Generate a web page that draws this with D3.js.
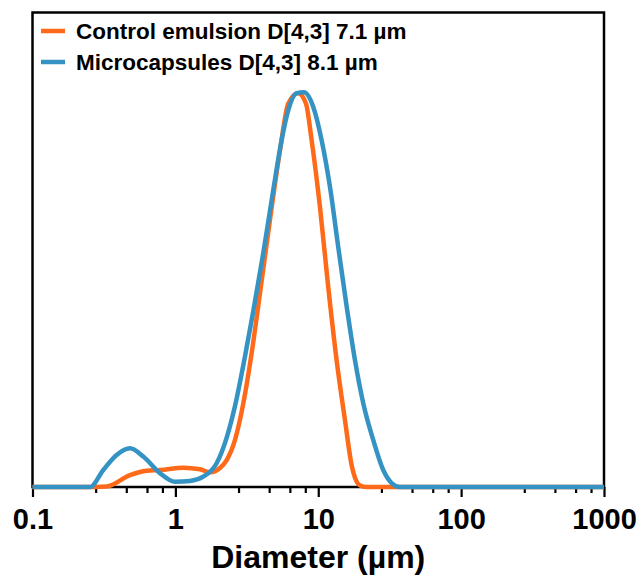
<!DOCTYPE html>
<html>
<head>
<meta charset="utf-8">
<script src="https://cdn.jsdelivr.net/npm/d3@7"></script>
<style>
  body { margin: 0; background: #fff; }
  svg { display: block; font-family: "Liberation Sans", Arial, sans-serif; font-weight: bold; }
</style>
</head>
<body>
<svg class="chart"></svg>
<script>
// particle size distributions, diameter in µm, volume %
var controlSize = [0.1, 0.274, 0.33, 0.481, 0.63, 0.78, 1.136, 1.486, 1.746, 2.05, 2.286, 2.614, 2.99, 3.42, 3.91, 4.59, 5.4, 6.17, 7.24, 8.2, 8.99, 10.28, 11.75, 13.45, 15.37, 17.13, 19.59, 21.81, 1000];
var controlVol  = [0, 0, 0.01, 0.3, 0.41, 0.43, 0.49, 0.45, 0.37, 0.48, 0.68, 1.19, 2.12, 3.39, 4.9, 6.75, 8.52, 9.7, 9.96, 9.7, 8.77, 7.08, 5.05, 3.2, 1.7, 0.55, 0.04, 0, 0];

var capsSize = [0.1, 0.253, 0.313, 0.388, 0.481, 0.596, 0.78, 0.994, 1.265, 1.567, 1.945, 2.286, 2.614, 3.07, 3.51, 4.12, 4.84, 5.54, 6.17, 7.06, 7.94, 9.23, 10.56, 12.08, 13.8, 15.81, 18.07, 20.65, 24.26, 28.5, 32.6, 37.3, 1000];
var capsVol  = [0, 0, 0.43, 0.81, 0.98, 0.77, 0.35, 0.13, 0.15, 0.26, 0.6, 1.25, 2.05, 3.3, 4.45, 5.91, 7.5, 8.77, 9.53, 9.96, 9.98, 9.61, 8.77, 7.59, 6.07, 4.56, 3.21, 2.12, 1.19, 0.43, 0.1, 0, 0];

var seriesNames = ["Control emulsion D[4,3] 7.1 µm", "Microcapsules D[4,3] 8.1 µm"];
var colors = ["#ff6a1a", "#3593c4"];

var majorTicks = [0.1, 1, 10, 100, 1000];
var minorSteps = [2.79, 4.57, 6.38, 8.18];

var W = 641, H = 577;
var margin = {top: 12.5, right: 37, bottom: 90, left: 32.5};

var chart = d3.select(".chart").attr("width", W).attr("height", H);

var xScale = d3.scaleLog().domain([0.1, 1000]).range([margin.left, W - margin.right]);
var yScale = d3.scaleLinear().domain([0, 12]).range([H - margin.bottom, margin.top]);

var x0 = xScale.range()[0], x1 = xScale.range()[1];
var yb = yScale(0), yt = yScale.range()[1];

// minor ticks
var minor = [];
majorTicks.slice(0, -1).forEach(function(t){
  minorSteps.forEach(function(m){ minor.push(t * m); });
});

var xAxis = d3.axisBottom(xScale)
  .tickValues(majorTicks)
  .tickSize(10)
  .tickPadding(11)
  .tickFormat(function(d){ return d3.format("~g")(d); });

var gx = chart.append("g")
  .attr("class", "axis x")
  .attr("transform", "translate(0," + yb + ")")
  .call(xAxis);
gx.select(".domain").remove();
gx.selectAll(".tick line").attr("stroke", "#000").attr("stroke-width", 2.2);
gx.selectAll(".tick text")
  .attr("fill", "#000")
  .style("font-size", "29px")
  .style("font-weight", "bold");

gx.selectAll(".minor")
  .data(minor)
  .enter().append("line")
  .attr("class", "minor")
  .attr("x1", function(d){ return xScale(d); })
  .attr("x2", function(d){ return xScale(d); })
  .attr("y1", 0).attr("y2", 6)
  .attr("stroke", "#000").attr("stroke-width", 2.2);

// frame
chart.append("rect")
  .attr("x", x0).attr("y", yt)
  .attr("width", x1 - x0).attr("height", yb - yt)
  .attr("fill", "none")
  .attr("stroke", "#000")
  .attr("stroke-width", 2.5);

// axis title
chart.append("text")
  .attr("x", (x0 + x1) / 2)
  .attr("y", 568)
  .attr("text-anchor", "middle")
  .style("font-size", "32px")
  .text("Diameter (µm)");

var line = d3.line()
  .curve(d3.curveMonotoneX)
  .x(function(d){ return xScale(d[0]); })
  .y(function(d){ return yScale(d[1]); });

var series = [d3.zip(controlSize, controlVol), d3.zip(capsSize, capsVol)];

series.forEach(function(s, i){
  chart.append("path")
    .datum(s)
    .attr("class", "line")
    .attr("d", line)
    .attr("fill", "none")
    .attr("stroke", colors[i])
    .attr("stroke-width", 4.5)
    .attr("stroke-linejoin", "round");
});

// legend
var leg = chart.append("g").attr("class", "legend");
seriesNames.forEach(function(n, i){
  var y = 31 + i * 31;
  leg.append("line")
    .attr("x1", 41).attr("x2", 65)
    .attr("y1", y).attr("y2", y)
    .attr("stroke", colors[i])
    .attr("stroke-width", 4.5);
  leg.append("text")
    .attr("x", 76)
    .attr("y", y + 7.5)
    .style("font-size", "22.5px")
    .text(n);
});
</script>
</body>
</html>
